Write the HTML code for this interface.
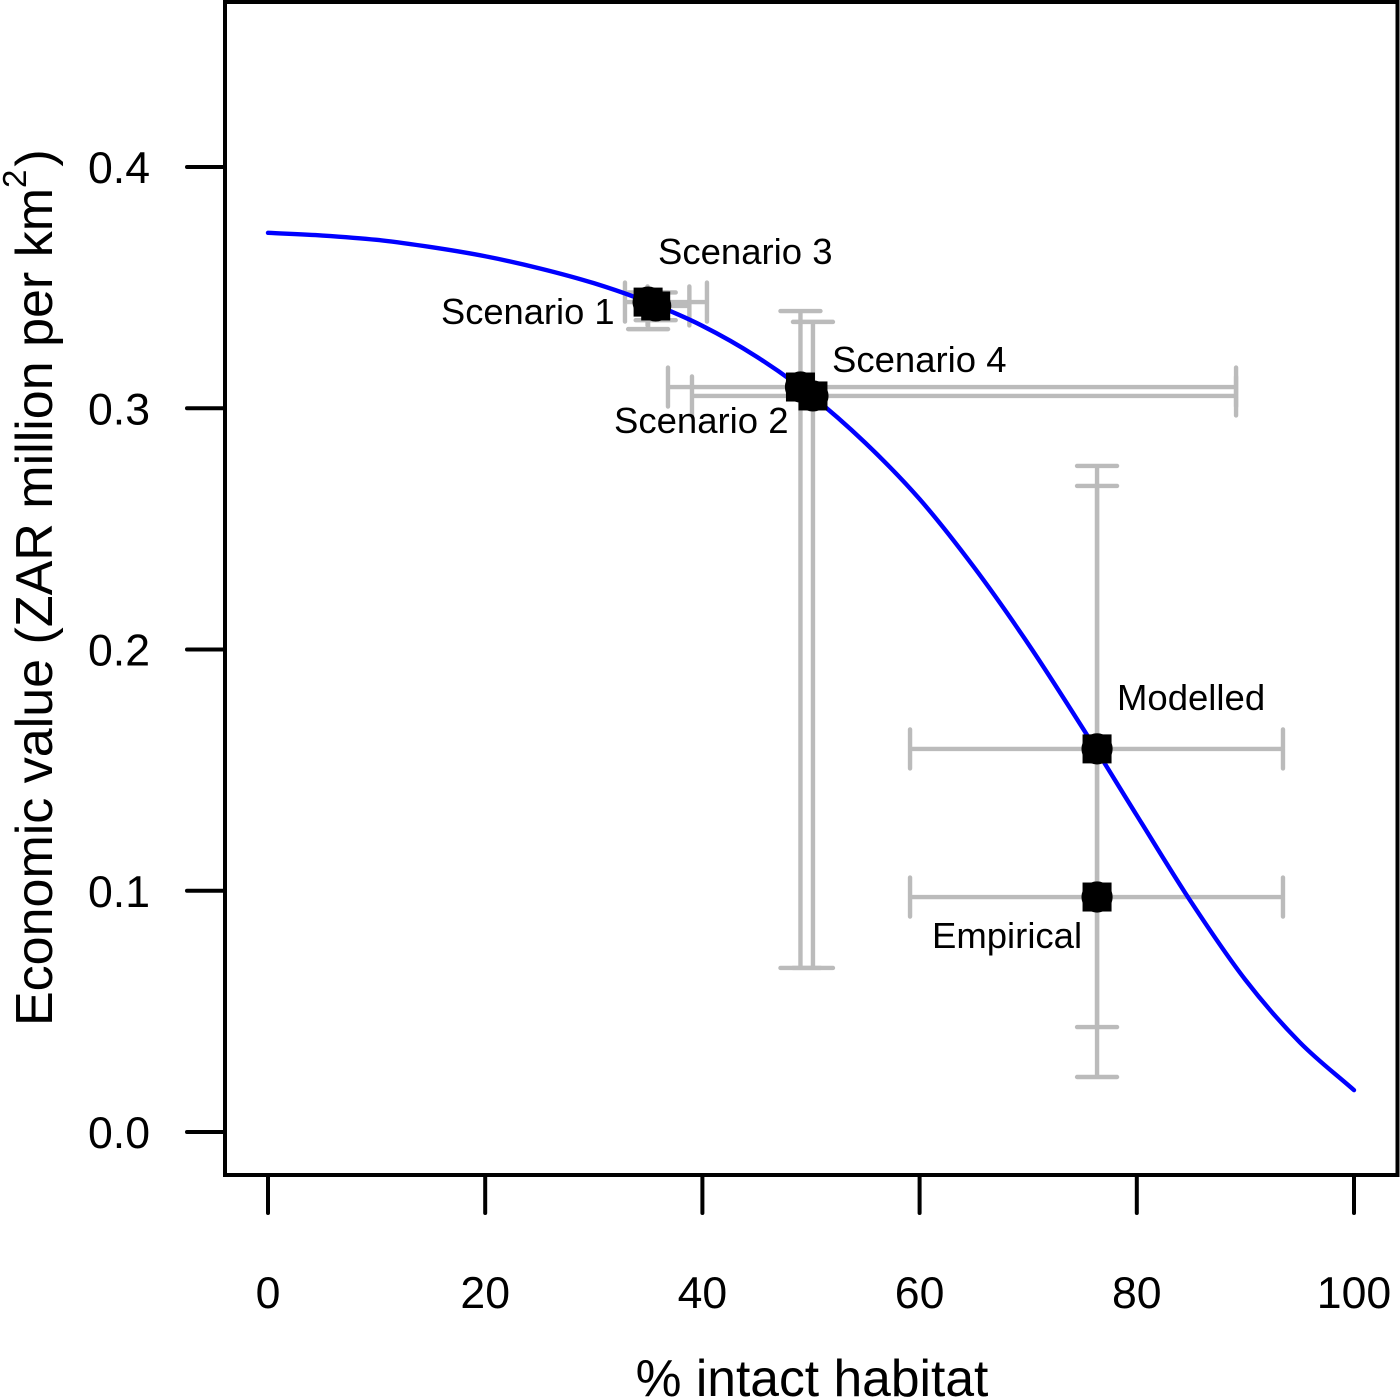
<!DOCTYPE html>
<html>
<head>
<meta charset="utf-8">
<title>Economic value vs intact habitat</title>
<style>
html,body{margin:0;padding:0;background:#fff;}
svg{display:block;}
text{font-family:"Liberation Sans",Arial,sans-serif;fill:#000;}
</style>
</head>
<body>
<svg id="chart" xmlns="http://www.w3.org/2000/svg" width="1400" height="1400" viewBox="0 0 1400 1400">
  <rect x="0" y="0" width="1400" height="1400" fill="#fff"/>
  <g id="errors"></g>
  <g id="curve"></g>
  <g id="points"></g>
  <rect x="225" y="2" width="1172.5" height="1173" fill="none" stroke="#000" stroke-width="4"/>
  <g id="xaxis"></g>
  <g id="yaxis"></g>
  <text x="812" y="1396" font-size="51.6" text-anchor="middle">% intact habitat</text>
  <text transform="translate(52,1026) rotate(-90)" font-size="52">Economic value (ZAR million per km<tspan font-size="33" dy="-26">2</tspan><tspan dy="26" dx="3">)</tspan></text>
  <text x="658" y="264" font-size="36.5">Scenario 3</text>
  <text x="441" y="324" font-size="36.3">Scenario 1</text>
  <text x="832" y="372" font-size="36.5">Scenario 4</text>
  <text x="614" y="433" font-size="36.5">Scenario 2</text>
  <text x="1117" y="710" font-size="36.5">Modelled</text>
  <text x="932" y="948" font-size="36.5">Empirical</text>
</svg>
<script>
const xTicks = [0, 20, 40, 60, 80, 100];
const xTickLabels = ["0", "20", "40", "60", "80", "100"];
const yTicks = [0, 0.1, 0.2, 0.3, 0.4];
const yTickLabels = ["0.0", "0.1", "0.2", "0.3", "0.4"];

const curveX = [0, 5, 10, 15, 20, 25, 30, 35, 40, 45, 50, 55, 60, 65, 70, 75, 80, 85, 90, 95, 100];
const curveY = [0.3727, 0.3716, 0.3698, 0.3668, 0.3630, 0.3580, 0.35185, 0.344, 0.33415, 0.32135, 0.30535, 0.28565, 0.26235, 0.23415, 0.20235, 0.16755, 0.13125, 0.09535, 0.06305, 0.0372, 0.01735];

const pointNames = ["scenario-1", "scenario-3", "scenario-2", "scenario-4", "modelled", "empirical"];
const pointX = [35.0, 35.7, 49.03, 50.18, 76.34, 76.34];
const pointY = [0.344, 0.3424, 0.3088, 0.3051, 0.1588, 0.0974];
const xLow = [32.87, 34.95, 36.83, 39.04, 59.12, 59.12];
const xHigh = [40.42, 38.8, 89.14, 89.14, 93.46, 93.46];
const yLow = [0.3328, 0.3365, 0.068, 0.068, 0.0435, 0.0228];
const yHigh = [0.348, 0.348, 0.3403, 0.3358, 0.2761, 0.2678];

const NS = "http://www.w3.org/2000/svg";
function sx(v) { return 268 + v * 10.86; }
function sy(v) { return 1132 - v * 2412.5; }
function make(tag, attrs, parent) {
  const el = document.createElementNS(NS, tag);
  for (const k in attrs) el.setAttribute(k, attrs[k]);
  parent.appendChild(el);
  return el;
}

const CAP = 19.5;
const errorsG = document.getElementById("errors");
const GREY = { stroke: "#bbbbbb", "stroke-width": 4.4, "stroke-linecap": "round" };
pointNames.forEach(function (name, i) {
  const px = sx(pointX[i]), py = sy(pointY[i]);
  const h = make("path", Object.assign({
    d: "M" + sx(xLow[i]) + " " + py + "H" + sx(xHigh[i]) +
       "M" + sx(xLow[i]) + " " + (py - CAP) + "V" + (py + CAP) +
       "M" + sx(xHigh[i]) + " " + (py - CAP) + "V" + (py + CAP),
    fill: "none"
  }, GREY), errorsG);
  
  
  const v = make("path", Object.assign({
    d: "M" + px + " " + sy(yLow[i]) + "V" + sy(yHigh[i]) +
       "M" + (px - CAP - 0.5) + " " + sy(yLow[i]) + "H" + (px + CAP + 0.5) +
       "M" + (px - CAP - 0.5) + " " + sy(yHigh[i]) + "H" + (px + CAP + 0.5),
    fill: "none"
  }, GREY), errorsG);
  
  
});

function curvePath() {
  const P = curveX.map(function (x, i) { return [sx(x), sy(curveY[i])]; });
  const n = P.length;
  let d = "M" + P[0][0] + " " + P[0][1];
  for (let i = 0; i < n - 1; i++) {
    const p1 = P[i], p2 = P[i + 1];
    const p0 = i > 0 ? P[i - 1] : [2 * p1[0] - p2[0], 2 * p1[1] - p2[1]];
    const p3 = i < n - 2 ? P[i + 2] : [2 * p2[0] - p1[0], 2 * p2[1] - p1[1]];
    d += "C" + (p1[0] + (p2[0] - p0[0]) / 6) + " " + (p1[1] + (p2[1] - p0[1]) / 6) + " " +
         (p2[0] - (p3[0] - p1[0]) / 6) + " " + (p2[1] - (p3[1] - p1[1]) / 6) + " " + p2[0] + " " + p2[1];
  }
  return d;
}
const curveEl = make("path", { d: curvePath(), fill: "none", stroke: "#0000ff", "stroke-width": 4.4, "stroke-linecap": "round" }, document.getElementById("curve"));



const pointsG = document.getElementById("points");
pointNames.forEach(function (name, i) {
  const px = sx(pointX[i]), py = sy(pointY[i]);
  const g = make("g", {}, pointsG);
  
  
  make("rect", { x: px - 14.5, y: py - 14.5, width: 29, height: 29, fill: "#000" }, g);
  make("circle", { cx: px, cy: py, r: 15.6, fill: "#000" }, g);
});

const xAxisG = document.getElementById("xaxis");
xTicks.forEach(function (t, i) {
  const tick = make("line", { x1: sx(t), x2: sx(t), y1: 1175, y2: 1213, stroke: "#000", "stroke-width": 4, "stroke-linecap": "round" }, xAxisG);
  
  
  const lab = make("text", { x: sx(t), y: 1308, "font-size": 44.6, "text-anchor": "middle" }, xAxisG);
  
  
  lab.textContent = xTickLabels[i];
});

const yAxisG = document.getElementById("yaxis");
yTicks.forEach(function (t, i) {
  const tick = make("line", { x1: 187, x2: 225, y1: sy(t), y2: sy(t), stroke: "#000", "stroke-width": 4, "stroke-linecap": "round" }, yAxisG);
  
  
  const lab = make("text", { x: 119, y: sy(t) + 16, "font-size": 44.6, "text-anchor": "middle" }, yAxisG);
  
  
  lab.textContent = yTickLabels[i];
});
</script>
</body>
</html>
